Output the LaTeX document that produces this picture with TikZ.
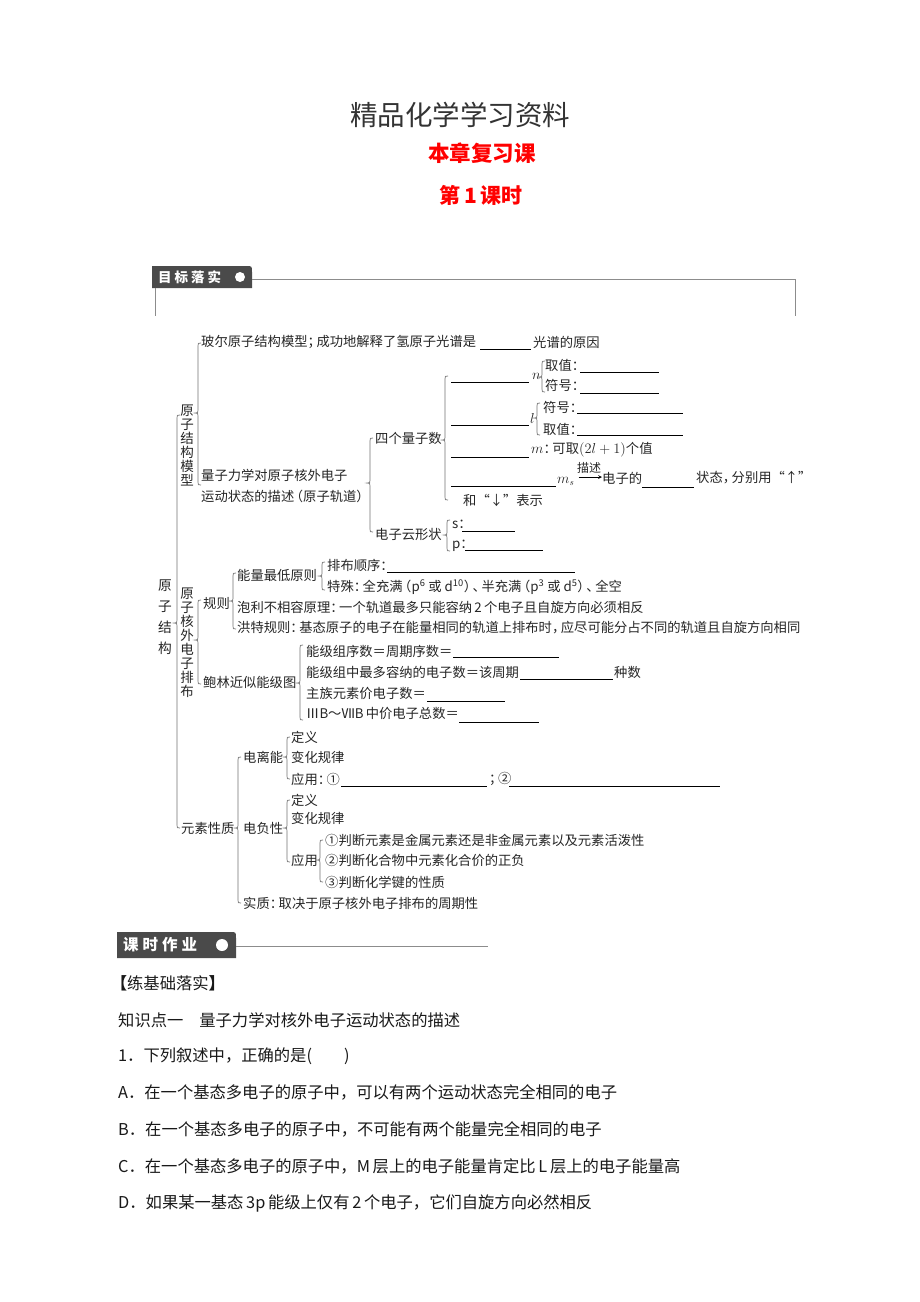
\documentclass[tikz,border=0pt]{standalone}
\usepackage{fontspec}
\setmainfont{Noto Sans CJK SC}
\definecolor{hdr}{HTML}{4A4A4A}
\definecolor{ttl}{HTML}{333333}
\definecolor{rd}{HTML}{FF0000}
\newcommand\pr[1]{#1\kern-0.33em}
\newcommand\pl[1]{\kern-0.33em#1}
\tikzset{
  tx/.style={anchor=west, inner sep=0pt, font=\fontsize{13.3}{14}\selectfont, text=black!85},
  vt/.style={anchor=north, inner sep=0pt, align=center, font=\fontsize{13.5}{14}\selectfont, text=black!85},
  br/.style={draw=black!55, line width=0.7pt},
  bl/.style={draw=black, line width=0.8pt},
  body/.style={anchor=west, inner sep=0pt, font=\fontsize{16.3}{16}\selectfont, text=black!90},
  hline/.style={draw=black!45, line width=1pt},
}
\newcommand\mybrace[4]{%
  \draw[br] (#1+3,#2) .. controls (#1,#2) .. (#1,#2+3) -- (#1,#4-3)
    .. controls (#1,#4) .. (#1-3,#4) .. controls (#1,#4) .. (#1,#4+3)
    -- (#1,#3-3) .. controls (#1,#3) .. (#1+3,#3);}
\begin{document}
\begin{tikzpicture}[x=1pt,y=-1pt]
\useasboundingbox (0,0) rectangle (920,1302);
\fill[white] (0,0) rectangle (920,1302);
% titles
\node[inner sep=0pt, text=ttl, font=\fontsize{27.5}{28}\selectfont] (title) at (460,115) {精品化学学习资料};
\node[inner sep=0pt, text=rd, font=\fontsize{21.5}{22}\selectfont\bfseries] (sub1) at (482,153) {本章复习课};
\node[inner sep=0pt, text=rd, font=\fontsize{21}{22}\selectfont\bfseries] (sub2) at (481,195) {第\,1\,课时};
% header 1
\fill[hdr] (152,288) -- (152,266) -- (246,266) .. controls (252,266) .. (252,272) -- (252,288) -- cycle;
\node[anchor=west, inner sep=0pt, text=white, font=\fontsize{13.5}{14}\selectfont\bfseries] (h1) at (158,277) {目\hspace{3pt}标\hspace{3pt}落\hspace{3pt}实};
\fill[white] (240,277) circle (5);
\draw[hline] (252,279) -- (795,279) -- (795,316);
\draw[hline] (155,288) -- (155,316);
% ---------------- diagram -----------------
\mybrace{177}{415}{828}{623}
\node[vt, font=\fontsize{13.7}{21}\selectfont] (yzjg) at (165,580) {原\\子\\结\\构};
\node[vt] (mx) at (187,405) {原\\子\\结\\构\\模\\型};
\node[vt] (hw) at (187,588) {原\\子\\核\\外\\电\\子\\排\\布};
\node[tx] (ysxz) at (181,828) {元素性质};
% model branch
\mybrace{198}{343}{485}{413}
\node[tx] (bohr) at (201,342) {玻尔原子结构模型\pr{；}成功地解释了氢原子光谱是};
\draw[bl] (480,349) -- (531,349);
\node[tx] (gp) at (533,342) {光谱的原因};
\node[tx] (lz1) at (201,475) {量子力学对原子核外电子};
\node[tx] (lz2) at (201,496) {运动状态的描述\pl{（}原子轨道\pr{）}};
\mybrace{370}{438}{532}{483}
\node[tx] (sgl) at (375,438) {四个量子数};
\node[tx] (dzy) at (375,534) {电子云形状};
\mybrace{445}{376}{500}{440}
% n
\draw[bl] (451,382) -- (529,382);
\node[tx] (qn) at (532,376) {$n$};
\mybrace{542}{361}{392}{377}
\node[tx] (n1) at (545,365) {取值\pr{：}};
\draw[bl] (580,372) -- (659,372);
\node[tx] (n2) at (545,385) {符号\pr{：}};
\draw[bl] (580,393) -- (659,393);
% l
\draw[bl] (451,425) -- (529,425);
\node[tx] (ql) at (530,418) {$l$};
\mybrace{537}{403}{435}{418}
\node[tx] (l1) at (543,407) {符号\pr{：}};
\draw[bl] (577,413) -- (683,413);
\node[tx] (l2) at (543,429) {取值\pr{：}};
\draw[bl] (577,435) -- (683,435);
% m
\draw[bl] (451,457) -- (529,457);
\node[tx] (qm) at (531,450) {$m$\pr{：}可取$(2l+1)$个值};
% ms
\draw[bl] (451,486) -- (556,486);
\node[tx] (qms) at (557,481) {$m_s$};
\node[tx] (dzd) at (602,478) {电子的};
\draw[->, >=stealth, line width=0.7pt] (qms.east) ++(4,-4) coordinate (a1) -- (dzd.west |- a1);
\node[tx, font=\fontsize{12}{12}\selectfont] (ms) at (577,468) {描述};
\draw[bl] (642,487) -- (694,487);
\node[tx] (zt) at (696,478) {状态\pr{，}分别用“↑”};
\node[tx] (he) at (463,500) {和“↓”表示};
% cloud
\mybrace{447}{520}{551}{535}
\node[tx] (cs) at (452,524) {s：};
\draw[bl] (462,531) -- (515,531);
\node[tx] (cp) at (452,546) {p：};
\draw[bl] (465,550) -- (543,550);
% arrangement branch
\mybrace{198}{600}{684}{640}
\node[tx] (gz) at (203,603) {规则};
\node[tx] (bl) at (203,682) {鲍林近似能级图};
\mybrace{233}{573}{629}{601}
\node[tx] (nlzd) at (237,575) {能量最低原则};
\mybrace{322}{562}{590}{576}
\node[tx] (pbsx) at (327,565) {排布顺序\pr{：}};
\draw[bl] (387,572) -- (575,572);
\node[tx] (ts) at (327,587) {特殊\pr{：}全充满\pl{（}p\textsuperscript{6} 或 d\textsuperscript{10}\pr{）}\pr{、}半充满\pl{（}p\textsuperscript{3} 或 d\textsuperscript{5}\pr{）}\pr{、}全空};
\node[tx] (pl) at (237,607) {泡利不相容原理\pr{：}一个轨道最多只能容纳\,2\,个电子且自旋方向必须相反};
\node[tx] (ht) at (237,628) {洪特规则\pr{：}基态原子的电子在能量相同的轨道上排布时\pr{，}应尽可能分占不同的轨道且自旋方向相同};
\mybrace{300}{645}{720}{683}
\node[tx] (nj1) at (306,651) {能级组序数＝周期序数＝};
\draw[bl] (453,657) -- (559,657);
\node[tx] (nj2) at (306,672) {能级组中最多容纳的电子数＝该周期};
\draw[bl] (520,679) -- (613,679);
\node[tx] (zs) at (614,672) {种数};
\node[tx] (nj3) at (306,693) {主族元素价电子数＝};
\draw[bl] (427,701) -- (505,701);
\node[tx] (nj4) at (306,713) {ⅢB～ⅦB\,中价电子总数＝};
\draw[bl] (459,722) -- (539,722);
% element properties
\mybrace{238}{757}{903}{828}
\node[tx] (dln) at (243,757) {电离能};
\mybrace{287}{737}{779}{757}
\node[tx] (d1) at (291,737) {定义};
\node[tx] (d2) at (291,757) {变化规律};
\node[tx] (d3) at (291,779) {应用\pr{：}①};
\draw[bl] (341,786) -- (487,786);
\node[tx] (d4) at (489,779) {\pr{；}②};
\draw[bl] (509,786) -- (720,786);
\node[tx] (dfx) at (243,828) {电负性};
\mybrace{287}{800}{862}{828}
\node[tx] (e1) at (291,800) {定义};
\node[tx] (e2) at (291,818) {变化规律};
\node[tx] (e3) at (291,860) {应用};
\mybrace{320}{840}{882}{860}
\node[tx] (f1) at (325,840) {①判断元素是金属元素还是非金属元素以及元素活泼性};
\node[tx] (f2) at (325,860) {②判断化合物中元素化合价的正负};
\node[tx] (f3) at (325,882) {③判断化学键的性质};
\node[tx] (sz) at (243,903) {实质\pr{：}取决于原子核外电子排布的周期性};
% header 2
\fill[hdr] (117,958) -- (117,932) -- (230,932) .. controls (236,932) .. (236,938) -- (236,958) -- cycle;
\node[anchor=west, inner sep=0pt, text=white, font=\fontsize{15.5}{16}\selectfont\bfseries] (h2) at (123,945) {课\hspace{4pt}时\hspace{4pt}作\hspace{4pt}业};
\fill[white] (222,945) circle (6);
\draw[hline] (236,946) -- (488,946);
% body
\node[body] (b0) at (118,983) {\kern-0.45em\textbf{【}练基础落实\textbf{】}};
\node[body] (b1) at (118,1020) {知识点一\hspace{16pt}量子力学对核外电子运动状态的描述};
\node[body] (b2) at (118,1056) {1．下列叙述中，正确的是(\hspace{32pt})};
\node[body] (b3) at (118,1092) {A．在一个基态多电子的原子中，可以有两个运动状态完全相同的电子};
\node[body] (b4) at (118,1129) {B．在一个基态多电子的原子中，不可能有两个能量完全相同的电子};
\node[body] (b5) at (118,1166) {C．在一个基态多电子的原子中，M\,层上的电子能量肯定比\,L\,层上的电子能量高};
\node[body] (b6) at (118,1203) {D．如果某一基态\,3p\,能级上仅有\,2\,个电子，它们自旋方向必然相反};
\end{tikzpicture}
\end{document}
